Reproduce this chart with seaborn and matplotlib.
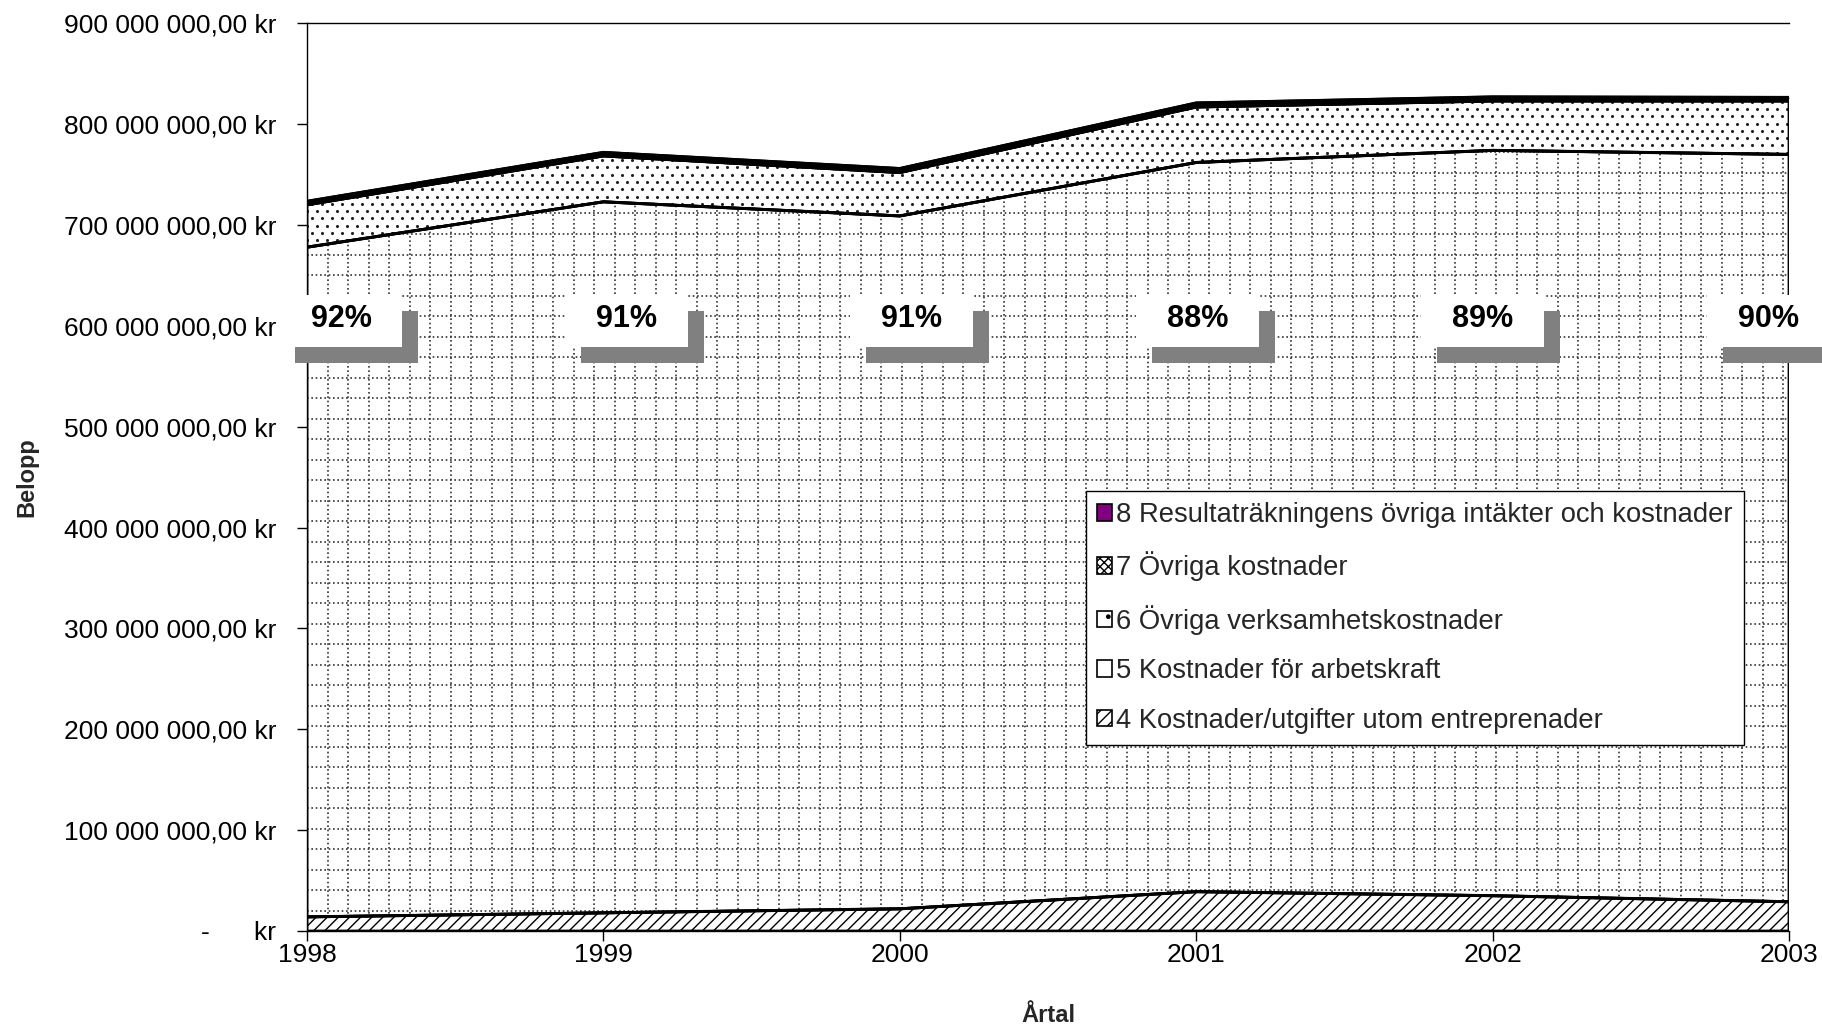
import numpy as np
import matplotlib
matplotlib.use("Agg")
import matplotlib.pyplot as plt
from matplotlib.patches import Patch, Rectangle
from matplotlib.collections import LineCollection
from matplotlib.ticker import FuncFormatter
import seaborn as sns

# ---- data (amounts in kr) -------------------------------------------------
years = [1998, 1999, 2000, 2001, 2002, 2003]
utgifter_utom_entreprenader = [14.0e6, 18.0e6, 22.0e6, 39.0e6, 35.0e6, 29.0e6]
arbetskraft = [664.0e6, 705.0e6, 687.0e6, 723.0e6, 739.0e6, 741.0e6]
ovriga_verksamhetskostnader = [42.0e6, 45.5e6, 43.0e6, 55.0e6, 49.0e6, 53.0e6]
ovriga_kostnader = [2.5e6, 2.5e6, 3.0e6, 3.0e6, 3.0e6, 2.5e6]
resultatrakning_ovrigt = [1.0e6, 1.0e6, 1.0e6, 1.0e6, 1.0e6, 1.0e6]

series_labels = [
    "4 Kostnader/utgifter utom entreprenader",
    "5 Kostnader för arbetskraft",
    "6 Övriga verksamhetskostnader",
    "7 Övriga kostnader",
    "8 Resultaträkningens övriga intäkter och kostnader",
]
y_ticks = [0, 100e6, 200e6, 300e6, 400e6, 500e6, 600e6, 700e6, 800e6, 900e6]

# ---- style ---------------------------------------------------------------
sns.set_theme(style="white")
plt.rcParams["font.family"] = ["Liberation Sans", "DejaVu Sans"]
plt.rcParams["hatch.linewidth"] = 1.0

W, H = 1822, 1027
fig = plt.figure(figsize=(W / 100, H / 100), dpi=100)
ax_l, ax_r, ax_t, ax_b = 307, 1789, 23.3, 931
ax = fig.add_axes([ax_l / W, 1 - ax_b / H, (ax_r - ax_l) / W, (ax_b - ax_t) / H])
ax_w_px, ax_h_px = ax_r - ax_l, ax_b - ax_t

# fill styles from the bottom of the stack up:
# (values, face colour, texture, legend hatch)
layers = [
    (utgifter_utom_entreprenader, "white", "///", "///"),
    (arbetskraft, "white", "dotgrid", None),
    (ovriga_verksamhetskostnader, "white", "dots", "."),
    (ovriga_kostnader, "white", "xxxx", "xxxx"),
    (resultatrakning_ovrigt, "#800080", None, None),
]


def dotted_grid(step_px):
    """Dotted square grid covering the axes, in axes coordinates."""
    segs = []
    for yy in np.arange(0, 1, step_px / ax_h_px):
        segs.append([(0, yy), (1, yy)])
    for xx in np.arange(step_px / ax_w_px, 1, step_px / ax_w_px):
        segs.append([(xx, 0), (xx, 1)])
    return LineCollection(segs, transform=ax.transAxes, colors="#333333",
                          linewidths=1.2, linestyles=[(0, (1, 1.6))],
                          zorder=1.5)


def staggered_dots(dx_px, dy_px, y_from):
    """Staggered dot texture (axes coordinates) above a given axes height."""
    xs, ys = [], []
    rows = np.arange(y_from, 1, dy_px / ax_h_px)
    for r, yy in enumerate(rows):
        shift = (dx_px / 2 if r % 2 else 0) / ax_w_px
        cols = np.arange(shift, 1, dx_px / ax_w_px)
        xs.extend(cols)
        ys.extend([yy] * len(cols))
    return np.array(xs), np.array(ys)


x = np.asarray(years, dtype=float)
lower = np.zeros(len(years))
for vals, fc, tex, _lh in layers:
    upper = lower + np.asarray(vals, dtype=float)
    if tex in ("dotgrid", "dots") or tex is None:
        poly = ax.fill_between(x, lower, upper, facecolor=fc, linewidth=0, zorder=1)
        clip = poly.get_paths()[0]
        if tex == "dotgrid":
            lc = dotted_grid(20.5)
            ax.add_collection(lc, autolim=False)
            lc.set_clip_path(clip, ax.transData)
        elif tex == "dots":
            dx, dy = staggered_dots(10.0, 7.3, 0.6)
            sc = ax.scatter(dx, dy, s=5.0, c="#222222", linewidths=0,
                            transform=ax.transAxes, zorder=1.5)
            sc.set_clip_path(clip, ax.transData)
    else:
        ax.fill_between(x, lower, upper, facecolor=fc, edgecolor="black",
                        hatch=tex, linewidth=0, zorder=1)
    ax.fill_between(x, lower, upper, facecolor="none", edgecolor="black",
                    linewidth=2.0, zorder=2)
    sns.lineplot(x=x, y=upper, color="black", linewidth=2.2, ax=ax,
                 legend=False, zorder=3)
    lower = upper

total = lower
shares = [round(100 * a / t) for a, t in zip(arbetskraft, total)]

# ---- axes ----------------------------------------------------------------
ax.set_xlim(years[0], years[-1])
ax.set_ylim(0, 900e6)
ax.set_xticks(years)
ax.set_xticklabels([str(y) for y in years])
ax.set_yticks(y_ticks)


def kr_format(v, _pos):
    if v == 0:
        return "-      kr"
    s = f"{v:,.2f}".replace(",", " ").replace(".", ",")
    return s + " kr"


ax.yaxis.set_major_formatter(FuncFormatter(kr_format))
ax.tick_params(axis="both", direction="out", length=7, width=1,
               color="black", labelsize=19, labelcolor="black")
ax.tick_params(axis="y", pad=15)
ax.tick_params(axis="x", pad=1.5)
ax.tick_params(left=True, bottom=True)

for side in ["left", "bottom", "top"]:
    ax.spines[side].set_visible(True)
    ax.spines[side].set_color("black")
    ax.spines[side].set_linewidth(1.0)
ax.spines["right"].set_visible(False)
ax.grid(False)

ax.set_ylabel("Belopp", fontsize=17, fontweight="bold")
ax.set_xlabel("Årtal", fontsize=17, fontweight="bold")
ax.yaxis.set_label_coords(-0.1815, 0.5)
ax.xaxis.set_label_coords(0.5, -0.08)

# ---- share labels with drop shadow ----------------------------------------
box_w, box_h = 123 / ax_w_px, 52 / ax_h_px
sh_dx, sh_dy = 16 / ax_w_px, -16 / ax_h_px
label_y = 0.6718
for i, p in enumerate(shares):
    cx = 0.0229 + i * 0.1926
    ax.add_patch(Rectangle((cx - box_w / 2 + sh_dx, label_y - box_h / 2 + sh_dy),
                           box_w, box_h, transform=ax.transAxes,
                           facecolor="#808080", edgecolor="none",
                           clip_on=False, zorder=6))
    ax.add_patch(Rectangle((cx - box_w / 2, label_y - box_h / 2),
                           box_w, box_h, transform=ax.transAxes,
                           facecolor="white", edgecolor="none",
                           clip_on=False, zorder=7))
    ax.text(cx, label_y + 0.002, f"{p}%", transform=ax.transAxes,
            ha="center", va="center", fontsize=22, fontweight="bold",
            color="black", zorder=8)

# ---- legend (top of stack first) ------------------------------------------
handles = []
for (vals, fc, tex, lh), lab in zip(layers, series_labels):
    handles.append(Patch(facecolor=fc, edgecolor="black", hatch=lh,
                         linewidth=1.2, label=lab))
handles = handles[::-1]
leg = ax.legend(handles=handles, loc="upper left",
                bbox_to_anchor=((1086 - ax_l) / ax_w_px, (ax_b - 491) / ax_h_px),
                borderaxespad=0, fontsize=19.7, frameon=True, fancybox=False,
                framealpha=1, edgecolor="black", handlelength=0.55,
                handleheight=0.55, handletextpad=0.15, labelspacing=0.86,
                borderpad=0.4)
leg.get_frame().set_linewidth(1.0)
leg.set_zorder(9)

fig.savefig("out.png", dpi=100)
